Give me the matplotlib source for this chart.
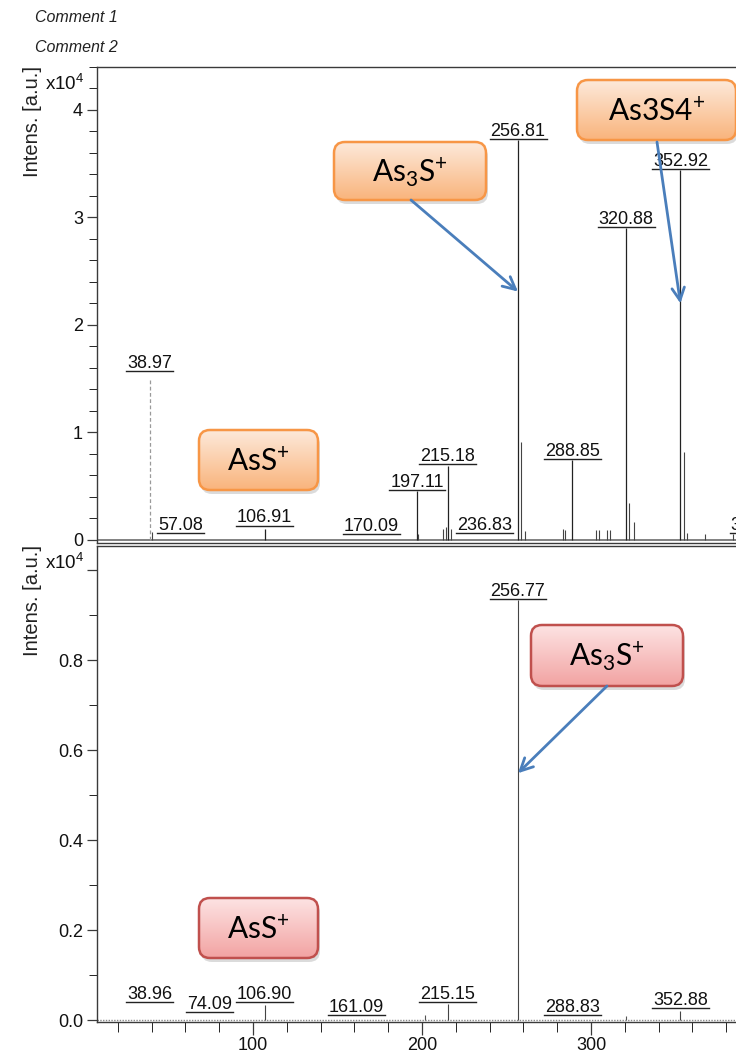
import matplotlib
matplotlib.use('Agg')
import matplotlib.pyplot as plt
import numpy as np
from matplotlib.patches import FancyBboxPatch
from matplotlib.lines import Line2D
from matplotlib.transforms import IdentityTransform
from matplotlib.ticker import MultipleLocator, FixedLocator
from matplotlib.colors import LinearSegmentedColormap

plt.rcParams['font.family'] = ['Liberation Sans', 'DejaVu Sans']
plt.rcParams['mathtext.default'] = 'regular'

# ---------------- data (intensity in units of 1e4 a.u.) ----------------
top_label_mz = [38.97, 57.08, 106.91, 170.09, 197.11, 215.18, 236.83, 256.81, 288.85, 320.88, 352.92, 398.90]
top_label_txt = ['38.97', '57.08', '106.91', '170.09', '197.11', '215.18', '236.83', '256.81', '288.85', '320.88', '352.92', '398.90']
top_label_int = [1.56, 0.05, 0.12, 0.04, 0.45, 0.69, 0.05, 3.72, 0.74, 2.90, 3.44, 0.05]
top_peak_int = [1.50, 0.00, 0.10, 0.00, 0.45, 0.69, 0.00, 3.72, 0.74, 2.90, 3.44, 0.00]

top_other_mz = [40.2, 197.9, 212.4, 214.0, 217.0, 258.8, 260.8, 283.4, 284.6, 303.0, 305.0, 309.5, 311.0, 322.5, 325.4, 354.9, 356.9, 367.5, 384.0]
top_other_int = [0.07, 0.05, 0.10, 0.12, 0.10, 0.91, 0.08, 0.10, 0.09, 0.09, 0.09, 0.09, 0.09, 0.34, 0.17, 0.82, 0.06, 0.05, 0.05]

bot_label_mz = [38.96, 74.09, 106.90, 161.09, 215.15, 256.77, 288.83, 352.88]
bot_label_txt = ['38.96', '74.09', '106.90', '161.09', '215.15', '256.77', '288.83', '352.88']
bot_label_int = [0.038, 0.016, 0.038, 0.009, 0.038, 0.934, 0.009, 0.025]
bot_peak_int = [0.000, 0.000, 0.033, 0.000, 0.035, 0.934, 0.000, 0.020]

bot_other_mz = [201.5, 321.0]
bot_other_int = [0.012, 0.010]

x_major_ticks = [100, 200, 300]

W, H = 736, 1056
fig = plt.figure(figsize=(W / 100, H / 100), dpi=100)
fig.patch.set_facecolor('white')

def frac(x0, y0, x1, y1):
    return [x0 / W, 1 - y1 / H, (x1 - x0) / W, (y1 - y0) / H]

ax1 = fig.add_axes(frac(97, 67, 760, 543))
ax2 = fig.add_axes(frac(97, 546, 760, 1022))

XL = (7.7, 400)
ax1.set_xlim(*XL)
ax2.set_xlim(*XL)
ax1.set_ylim(-0.03, 4.40)
ax2.set_ylim(-0.004, 1.054)

spine_c = '#3a3a3a'
for ax in (ax1, ax2):
    for s in ax.spines.values():
        s.set_color(spine_c)
        s.set_linewidth(1.0)
    ax.tick_params(colors=spine_c, labelcolor='#111111', labelsize=13, width=0.9)
    ax.tick_params(axis='y', which='major', length=7, pad=3)
    ax.tick_params(axis='y', which='minor', length=6)

ax1.tick_params(axis='x', which='both', bottom=False, labelbottom=False)
ax1.yaxis.set_major_locator(FixedLocator([0, 1, 2, 3, 4]))
ax1.set_yticklabels(['0', '1', '2', '3', '4'])
ax1.yaxis.set_minor_locator(MultipleLocator(0.2))

ax2.yaxis.set_major_locator(FixedLocator([0, 0.2, 0.4, 0.6, 0.8, 1.0]))
ax2.set_yticklabels(['0.0', '0.2', '0.4', '0.6', '0.8', ''])
ax2.yaxis.set_minor_locator(MultipleLocator(0.1))
ax2.xaxis.set_major_locator(FixedLocator(x_major_ticks))
ax2.xaxis.set_minor_locator(MultipleLocator(20))
ax2.tick_params(axis='x', which='major', length=9, pad=2)
ax2.tick_params(axis='x', which='minor', length=7)

# baselines (noisy spectrum floor)
ax1.axhline(0, color='#777777', lw=1.3, zorder=1)
ax2.axhline(0, color='#888888', lw=1.0, ls=(0, (1, 1)), zorder=1)

# peaks
pk = '#222222'
for mz, h in zip(top_label_mz, top_peak_int):
    if h <= 0:
        continue
    if mz < 50:
        ax1.vlines(mz, 0, h, color='#9a9a9a', lw=0.9, ls=(0, (3, 2)))
    else:
        ax1.vlines(mz, 0, h, color=pk, lw=0.9)
ax1.vlines(top_other_mz, 0, top_other_int, color='#444444', lw=0.8)
for mz, h in zip(bot_label_mz, bot_peak_int):
    if h > 0:
        ax2.vlines(mz, 0, h, color='#444444', lw=0.8)
ax2.vlines(bot_other_mz, 0, bot_other_int, color='#555555', lw=0.8)

# peak labels
label_texts = []
for ax, mzs, txts, lv in ((ax1, top_label_mz, top_label_txt, top_label_int),
                          (ax2, bot_label_mz, bot_label_txt, bot_label_int)):
    for mz, t, l in zip(mzs, txts, lv):
        a = ax.annotate(t, xy=(mz, l), xytext=(0, 3.2), textcoords='offset points',
                        ha='center', va='baseline', fontsize=13, color='#111111',
                        annotation_clip=False)
        label_texts.append((ax, a, mz, l))

# header and axis texts
fig.text(35 / W, 1 - 17 / H, 'Comment 1', fontsize=11.5, style='italic', va='center', ha='left', color='#222222')
fig.text(35 / W, 1 - 47 / H, 'Comment 2', fontsize=11.5, style='italic', va='center', ha='left', color='#222222')
fig.text(32 / W, 1 - 66 / H, 'Intens. [a.u.]', rotation=90, fontsize=14.5, va='top', ha='center', color='#222222')
fig.text(32 / W, 1 - 545 / H, 'Intens. [a.u.]', rotation=90, fontsize=14.5, va='top', ha='center', color='#222222')
fig.text(45 / W, 1 - 84 / H, 'x10$^{4}$', fontsize=13.5, va='center', ha='left', color='#111111')
fig.text(45 / W, 1 - 563 / H, 'x10$^{4}$', fontsize=13.5, va='center', ha='left', color='#111111')

# overlay axes in pixel coordinates for callout boxes
ov = fig.add_axes([0, 0, 1, 1])
ov.set_xlim(0, W)
ov.set_ylim(H, 0)
ov.axis('off')
ov.set_zorder(20)

orange = ('#fde9da', '#f9b47c', '#f79646')
red = ('#fde3e3', '#f2a3a2', '#c0504d')

def gbox(x0, y0, x1, y1, cols, text):
    top, bot, edge = cols
    sh = FancyBboxPatch((x0 + 2, y0 + 4), x1 - x0, y1 - y0,
                        boxstyle='round,pad=0,rounding_size=11', fc='#8a8a8a', ec='none',
                        alpha=0.30, zorder=5)
    ov.add_patch(sh)
    p = FancyBboxPatch((x0, y0), x1 - x0, y1 - y0, boxstyle='round,pad=0,rounding_size=11',
                       fc='none', ec=edge, lw=1.8, zorder=7)
    ov.add_patch(p)
    cmap = LinearSegmentedColormap.from_list('g', [top, bot])
    grad = np.linspace(0, 1, 128).reshape(-1, 1)
    im = ov.imshow(grad, cmap=cmap, extent=(x0, x1, y1, y0), origin='upper',
                   aspect='auto', zorder=6, interpolation='bilinear')
    im.set_clip_path(p)
    ov.text((x0 + x1) / 2, (y0 + y1) / 2 + 1, text, ha='center', va='center',
            fontsize=21.5, family=['Lato', 'DejaVu Sans'], color='black', zorder=8)

gbox(199, 430, 318, 490, orange, 'AsS$^{+}$')
gbox(334, 142, 486, 200, orange, 'As$_{3}$S$^{+}$')
gbox(577, 80, 736, 140, orange, 'As3S4$^{+}$')
gbox(531, 625, 683, 686, red, 'As$_{3}$S$^{+}$')
gbox(199, 898, 318, 958, red, 'AsS$^{+}$')
ov.set_xlim(0, W)
ov.set_ylim(H, 0)

arrow_c = '#4a7ebb'
aprops = dict(arrowstyle='->,head_length=0.9,head_width=0.45', color=arrow_c, lw=2.0,
              shrinkA=0, shrinkB=0)
ov.annotate('', xy=(256.81, 2.31), xycoords=ax1.transData, xytext=(411, 200), textcoords='data',
            arrowprops=aprops, zorder=9, annotation_clip=False)
ov.annotate('', xy=(352.92, 2.20), xycoords=ax1.transData, xytext=(657, 142), textcoords='data',
            arrowprops=aprops, zorder=9, annotation_clip=False)
ov.annotate('', xy=(256.77, 0.549), xycoords=ax2.transData, xytext=(607, 686), textcoords='data',
            arrowprops=aprops, zorder=9, annotation_clip=False)

# underlines for peak labels
fig.canvas.draw()
r = fig.canvas.get_renderer()
for ax, a, mz, l in label_texts:
    bb = a.get_window_extent(r)
    _, yd = ax.transData.transform((mz, l))
    fig.add_artist(Line2D([bb.x0 - 1, bb.x1 + 1], [yd + 1.2, yd + 1.2], transform=IdentityTransform(),
                          color='#222222', lw=1.0))

fig.savefig('out.png', dpi=100)
